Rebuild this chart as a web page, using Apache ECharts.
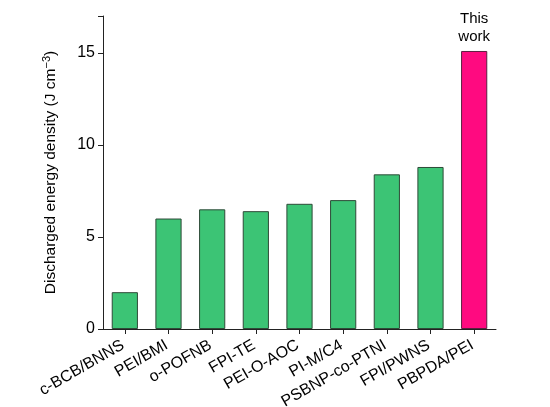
<!DOCTYPE html>
<html>
<head>
<meta charset="utf-8">
<script src="https://cdn.jsdelivr.net/npm/echarts@6/dist/echarts.min.js"></script>
<style>
  html, body {margin: 0; padding: 0; background: #fff;}
  #chart {width: 550px; height: 407px;}
</style>
</head>
<body>
<div id="chart"></div>
<script>
const categories = ['c-BCB/BNNS', 'PEI/BMI', 'o-POFNB', 'FPI-TE', 'PEI-O-AOC', 'PI-M/C4', 'PSBNP-co-PTNI', 'FPI/PWNS', 'PBPDA/PEI'];
const energyDensity = [2.0, 6.0, 6.5, 6.4, 6.8, 7.0, 8.4, 8.8, 15.1];
const yTicks = [0, 5, 10, 15];

const font = 'Liberation Sans, Arial, Helvetica, sans-serif';
const green = '#3cc475';
const pink = '#ff0a80';

const myChart = echarts.init(document.getElementById('chart'));
myChart.setOption({
  animation: false,
  textStyle: {fontFamily: font},
  grid: {left: 103, right: 54, top: 16, bottom: 78, outerBoundsMode: 'none'},
  xAxis: {
    type: 'category',
    data: categories,
    axisLine: {lineStyle: {color: '#222', width: 1}},
    axisTick: {show: true, alignWithLabel: true, length: 5, lineStyle: {color: '#222'}},
    axisLabel: {
      interval: 0, rotate: 30, fontSize: 16, color: '#000', margin: 14,
      padding: [0, 2, 0, 0], fontFamily: font
    }
  },
  yAxis: {
    type: 'value',
    min: 0,
    max: 17,
    interval: 5,
    name: 'Discharged energy density (J cm{sup|−3})',
    nameLocation: 'middle',
    nameGap: 43,
    nameTextStyle: {
      fontSize: 15.5, color: '#000', fontFamily: font,
      rich: {sup: {fontSize: 11, verticalAlign: 'top', padding: [0, 0, 8, 0], color: '#000'}}
    },
    splitLine: {show: false},
    axisLine: {show: true, lineStyle: {color: '#222', width: 1}},
    axisTick: {show: true, length: 5, lineStyle: {color: '#222'}},
    axisLabel: {
      fontSize: 16, color: '#000', margin: 8, fontFamily: font,
      formatter: v => yTicks.includes(v) ? String(v) : ''
    }
  },
  series: [{
    type: 'bar',
    barWidth: '60%',
    data: energyDensity.map((v, i) => {
      const last = i === energyDensity.length - 1;
      return {
        value: v,
        itemStyle: {color: last ? pink : green, borderColor: last ? '#5a2040' : '#2e4a38', borderWidth: 1},
        label: last ? {
          show: true, position: 'top', distance: 5, formatter: 'This\nwork',
          fontSize: 15, lineHeight: 18, color: '#000', fontFamily: font
        } : {show: false}
      };
    })
  }]
});
</script>
</body>
</html>
